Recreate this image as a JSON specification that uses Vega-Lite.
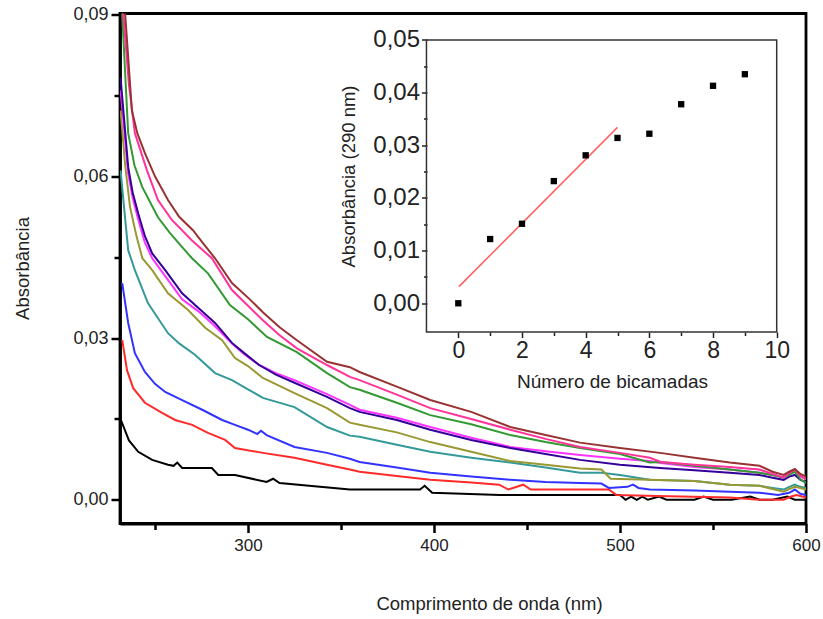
{
  "$schema": "https://vega.github.io/schema/vega-lite/v6.json",
  "width": 686,
  "height": 510,
  "autosize": {"type": "none"},
  "padding": {"left": 120, "top": 13.5, "right": 17, "bottom": 95.5},
  "background": "white",
  "config": {
    "view": {"stroke": "black", "strokeWidth": 2.8},
    "font": "Liberation Sans",
    "axis": {"labelFont": "Liberation Sans", "titleFont": "Liberation Sans", "titleFontWeight": "normal", "labelColor": "#222", "titleColor": "#222", "grid": false, "labelOverlap": false, "labelFlush": false, "labelBound": false}
  },
  "layer": [
    {
      "data": {"values": [
        {"s":"n0","x":231.7,"y":0.0148},{"s":"n0","x":236,"y":0.011},{"s":"n0","x":241,"y":0.0089},{"s":"n0","x":248.5,"y":0.0074},{"s":"n0","x":257,"y":0.0065},{"s":"n0","x":260,"y":0.0063},{"s":"n0","x":262,"y":0.0069},{"s":"n0","x":264.6,"y":0.0059},{"s":"n0","x":280.6,"y":0.0059},{"s":"n0","x":284,"y":0.0046},{"s":"n0","x":293,"y":0.0046},{"s":"n0","x":310,"y":0.0033},{"s":"n0","x":313.5,"y":0.0039},{"s":"n0","x":317,"y":0.0031},{"s":"n0","x":338.7,"y":0.0024},{"s":"n0","x":354.8,"y":0.0019},{"s":"n0","x":392.5,"y":0.0019},{"s":"n0","x":395,"y":0.0026},{"s":"n0","x":399,"y":0.0013},{"s":"n0","x":435.5,"y":0.0009},{"s":"n0","x":500,"y":0.0009},{"s":"n0","x":503,"y":0.0},{"s":"n0","x":506,"y":0.0006},{"s":"n0","x":509,"y":0.0},{"s":"n0","x":512,"y":0.0006},{"s":"n0","x":515,"y":0.0},{"s":"n0","x":521,"y":0.0006},{"s":"n0","x":525,"y":0.0},{"s":"n0","x":540,"y":0.0},{"s":"n0","x":545,"y":0.0006},{"s":"n0","x":550,"y":0.0},{"s":"n0","x":560,"y":0.0},{"s":"n0","x":570,"y":0.0006},{"s":"n0","x":575,"y":0.0},{"s":"n0","x":582,"y":0.0},{"s":"n0","x":590,"y":0.0006},{"s":"n0","x":594,"y":0.0},{"s":"n0","x":600,"y":0.0},
        {"s":"n1","x":232.4,"y":0.0296},{"s":"n1","x":235,"y":0.024},{"s":"n1","x":238.3,"y":0.0207},{"s":"n1","x":244.6,"y":0.018},{"s":"n1","x":253.8,"y":0.0161},{"s":"n1","x":260.8,"y":0.0148},{"s":"n1","x":270,"y":0.0139},{"s":"n1","x":278.5,"y":0.0124},{"s":"n1","x":287.7,"y":0.0111},{"s":"n1","x":293,"y":0.0096},{"s":"n1","x":308,"y":0.0087},{"s":"n1","x":325,"y":0.0078},{"s":"n1","x":342.5,"y":0.0065},{"s":"n1","x":354.8,"y":0.0056},{"s":"n1","x":360,"y":0.0052},{"s":"n1","x":380,"y":0.0044},{"s":"n1","x":398,"y":0.0037},{"s":"n1","x":420,"y":0.0032},{"s":"n1","x":435,"y":0.0028},{"s":"n1","x":440,"y":0.0019},{"s":"n1","x":448,"y":0.0028},{"s":"n1","x":452,"y":0.0019},{"s":"n1","x":478.5,"y":0.0019},{"s":"n1","x":494,"y":0.0019},{"s":"n1","x":498,"y":0.0009},{"s":"n1","x":520,"y":0.0007},{"s":"n1","x":559,"y":0.0004},{"s":"n1","x":575,"y":0.0},{"s":"n1","x":588,"y":0.0},{"s":"n1","x":592,"y":0.0006},{"s":"n1","x":595,"y":0.0009},{"s":"n1","x":600,"y":0.0004},
        {"s":"n2","x":232.4,"y":0.0402},{"s":"n2","x":235.6,"y":0.0328},{"s":"n2","x":239.2,"y":0.0272},{"s":"n2","x":244.6,"y":0.0237},{"s":"n2","x":250,"y":0.0215},{"s":"n2","x":255.5,"y":0.02},{"s":"n2","x":264.6,"y":0.0185},{"s":"n2","x":275.4,"y":0.0167},{"s":"n2","x":286.1,"y":0.0148},{"s":"n2","x":293,"y":0.0139},{"s":"n2","x":300,"y":0.013},{"s":"n2","x":305,"y":0.0122},{"s":"n2","x":307,"y":0.0128},{"s":"n2","x":310,"y":0.012},{"s":"n2","x":325,"y":0.0098},{"s":"n2","x":342.5,"y":0.0087},{"s":"n2","x":354.8,"y":0.0076},{"s":"n2","x":360,"y":0.007},{"s":"n2","x":380,"y":0.006},{"s":"n2","x":398,"y":0.005},{"s":"n2","x":420,"y":0.0043},{"s":"n2","x":441,"y":0.0037},{"s":"n2","x":460,"y":0.0033},{"s":"n2","x":478.5,"y":0.0031},{"s":"n2","x":490,"y":0.003},{"s":"n2","x":494,"y":0.0022},{"s":"n2","x":504,"y":0.0024},{"s":"n2","x":507,"y":0.0028},{"s":"n2","x":510,"y":0.0022},{"s":"n2","x":516,"y":0.0019},{"s":"n2","x":540,"y":0.0017},{"s":"n2","x":559,"y":0.0015},{"s":"n2","x":575,"y":0.0013},{"s":"n2","x":585,"y":0.0009},{"s":"n2","x":591,"y":0.0013},{"s":"n2","x":594,"y":0.0019},{"s":"n2","x":597,"y":0.0011},{"s":"n2","x":600,"y":0.0009},
        {"s":"n3","x":231.5,"y":0.0611},{"s":"n3","x":234,"y":0.052},{"s":"n3","x":235.6,"y":0.0463},{"s":"n3","x":239.2,"y":0.0426},{"s":"n3","x":246.2,"y":0.0365},{"s":"n3","x":257,"y":0.0309},{"s":"n3","x":263,"y":0.029},{"s":"n3","x":271.5,"y":0.0269},{"s":"n3","x":282.3,"y":0.0235},{"s":"n3","x":291.4,"y":0.0222},{"s":"n3","x":300,"y":0.0205},{"s":"n3","x":308,"y":0.0189},{"s":"n3","x":325,"y":0.0172},{"s":"n3","x":342.5,"y":0.0135},{"s":"n3","x":354.8,"y":0.0119},{"s":"n3","x":360,"y":0.0117},{"s":"n3","x":380,"y":0.0102},{"s":"n3","x":398,"y":0.0089},{"s":"n3","x":420,"y":0.0078},{"s":"n3","x":441,"y":0.0069},{"s":"n3","x":460,"y":0.006},{"s":"n3","x":478.5,"y":0.005},{"s":"n3","x":490,"y":0.005},{"s":"n3","x":500,"y":0.0046},{"s":"n3","x":516,"y":0.0037},{"s":"n3","x":540,"y":0.0035},{"s":"n3","x":559,"y":0.0028},{"s":"n3","x":575,"y":0.0026},{"s":"n3","x":582,"y":0.0022},{"s":"n3","x":588,"y":0.0019},{"s":"n3","x":591,"y":0.0024},{"s":"n3","x":594,"y":0.0028},{"s":"n3","x":597,"y":0.0024},{"s":"n3","x":600,"y":0.0022},
        {"s":"n4","x":231.5,"y":0.0722},{"s":"n4","x":234,"y":0.062},{"s":"n4","x":236.6,"y":0.0543},{"s":"n4","x":240,"y":0.049},{"s":"n4","x":243.2,"y":0.0448},{"s":"n4","x":248.5,"y":0.0426},{"s":"n4","x":257,"y":0.0383},{"s":"n4","x":267.8,"y":0.0352},{"s":"n4","x":277,"y":0.0319},{"s":"n4","x":286.1,"y":0.0296},{"s":"n4","x":293,"y":0.0263},{"s":"n4","x":300,"y":0.0248},{"s":"n4","x":308,"y":0.0226},{"s":"n4","x":325,"y":0.0198},{"s":"n4","x":342.5,"y":0.017},{"s":"n4","x":354.8,"y":0.0143},{"s":"n4","x":360,"y":0.0139},{"s":"n4","x":380,"y":0.0125},{"s":"n4","x":398,"y":0.0107},{"s":"n4","x":420,"y":0.0089},{"s":"n4","x":441,"y":0.0072},{"s":"n4","x":460,"y":0.0065},{"s":"n4","x":478.5,"y":0.0058},{"s":"n4","x":490,"y":0.0056},{"s":"n4","x":495,"y":0.0039},{"s":"n4","x":516,"y":0.0037},{"s":"n4","x":540,"y":0.0035},{"s":"n4","x":559,"y":0.0028},{"s":"n4","x":575,"y":0.0026},{"s":"n4","x":582,"y":0.002},{"s":"n4","x":588,"y":0.0015},{"s":"n4","x":591,"y":0.002},{"s":"n4","x":594,"y":0.0024},{"s":"n4","x":597,"y":0.0022},{"s":"n4","x":600,"y":0.0019},
        {"s":"n5","x":231.5,"y":0.076},{"s":"n5","x":235.6,"y":0.0605},{"s":"n5","x":238,"y":0.056},{"s":"n5","x":241,"y":0.052},{"s":"n5","x":244.5,"y":0.0478},{"s":"n5","x":248.5,"y":0.0448},{"s":"n5","x":255.5,"y":0.0415},{"s":"n5","x":264.6,"y":0.0372},{"s":"n5","x":273.2,"y":0.035},{"s":"n5","x":282.3,"y":0.0322},{"s":"n5","x":291.4,"y":0.029},{"s":"n5","x":298,"y":0.027},{"s":"n5","x":306,"y":0.025},{"s":"n5","x":315,"y":0.0235},{"s":"n5","x":325,"y":0.0222},{"s":"n5","x":342.5,"y":0.0196},{"s":"n5","x":354.8,"y":0.0176},{"s":"n5","x":360,"y":0.0167},{"s":"n5","x":380,"y":0.0152},{"s":"n5","x":398,"y":0.0135},{"s":"n5","x":420,"y":0.0115},{"s":"n5","x":441,"y":0.0098},{"s":"n5","x":460,"y":0.009},{"s":"n5","x":478.5,"y":0.0083},{"s":"n5","x":500,"y":0.0076},{"s":"n5","x":516,"y":0.0072},{"s":"n5","x":522,"y":0.0068},{"s":"n5","x":540,"y":0.0061},{"s":"n5","x":559,"y":0.0056},{"s":"n5","x":575,"y":0.005},{"s":"n5","x":582,"y":0.0046},{"s":"n5","x":588,"y":0.0042},{"s":"n5","x":591,"y":0.0048},{"s":"n5","x":594,"y":0.0052},{"s":"n5","x":597,"y":0.0043},{"s":"n5","x":600,"y":0.0039},
        {"s":"n6","x":231.5,"y":0.0783},{"s":"n6","x":235.6,"y":0.0617},{"s":"n6","x":238,"y":0.057},{"s":"n6","x":241,"y":0.0531},{"s":"n6","x":244.5,"y":0.049},{"s":"n6","x":248.5,"y":0.0457},{"s":"n6","x":255.5,"y":0.0426},{"s":"n6","x":264.6,"y":0.0383},{"s":"n6","x":273.2,"y":0.0356},{"s":"n6","x":282.3,"y":0.0328},{"s":"n6","x":291.4,"y":0.0291},{"s":"n6","x":298,"y":0.0272},{"s":"n6","x":306,"y":0.025},{"s":"n6","x":315,"y":0.0232},{"s":"n6","x":325,"y":0.0217},{"s":"n6","x":342.5,"y":0.0191},{"s":"n6","x":354.8,"y":0.017},{"s":"n6","x":360,"y":0.0163},{"s":"n6","x":380,"y":0.0148},{"s":"n6","x":398,"y":0.013},{"s":"n6","x":420,"y":0.0111},{"s":"n6","x":441,"y":0.0096},{"s":"n6","x":460,"y":0.0085},{"s":"n6","x":478.5,"y":0.0074},{"s":"n6","x":500,"y":0.0065},{"s":"n6","x":521.5,"y":0.0059},{"s":"n6","x":540,"y":0.0055},{"s":"n6","x":559,"y":0.005},{"s":"n6","x":575,"y":0.0046},{"s":"n6","x":582,"y":0.0041},{"s":"n6","x":588,"y":0.0037},{"s":"n6","x":591,"y":0.0043},{"s":"n6","x":594,"y":0.0046},{"s":"n6","x":597,"y":0.0037},{"s":"n6","x":600,"y":0.0033},
        {"s":"n7","x":231.5,"y":0.095},{"s":"n7","x":232.4,"y":0.09},{"s":"n7","x":235.6,"y":0.068},{"s":"n7","x":239,"y":0.062},{"s":"n7","x":243.2,"y":0.058},{"s":"n7","x":251.6,"y":0.0524},{"s":"n7","x":258,"y":0.0495},{"s":"n7","x":264.5,"y":0.0469},{"s":"n7","x":269.9,"y":0.0448},{"s":"n7","x":278.5,"y":0.042},{"s":"n7","x":290.3,"y":0.0361},{"s":"n7","x":300,"y":0.0335},{"s":"n7","x":310.2,"y":0.0302},{"s":"n7","x":326.3,"y":0.0274},{"s":"n7","x":342.5,"y":0.0235},{"s":"n7","x":354.8,"y":0.0209},{"s":"n7","x":360,"y":0.0204},{"s":"n7","x":380,"y":0.018},{"s":"n7","x":398,"y":0.0157},{"s":"n7","x":420,"y":0.014},{"s":"n7","x":441,"y":0.012},{"s":"n7","x":460,"y":0.0107},{"s":"n7","x":478.5,"y":0.0096},{"s":"n7","x":500,"y":0.0085},{"s":"n7","x":516,"y":0.0069},{"s":"n7","x":522,"y":0.007},{"s":"n7","x":540,"y":0.0063},{"s":"n7","x":559,"y":0.0056},{"s":"n7","x":575,"y":0.005},{"s":"n7","x":582,"y":0.0046},{"s":"n7","x":588,"y":0.0041},{"s":"n7","x":591,"y":0.0046},{"s":"n7","x":594,"y":0.0052},{"s":"n7","x":597,"y":0.0038},{"s":"n7","x":600,"y":0.0031},
        {"s":"n8","x":231.5,"y":0.099},{"s":"n8","x":233,"y":0.09},{"s":"n8","x":236,"y":0.077},{"s":"n8","x":239.2,"y":0.068},{"s":"n8","x":245.7,"y":0.0611},{"s":"n8","x":251.6,"y":0.0556},{"s":"n8","x":259.1,"y":0.0519},{"s":"n8","x":269.9,"y":0.0481},{"s":"n8","x":280.6,"y":0.0448},{"s":"n8","x":291.4,"y":0.0389},{"s":"n8","x":300,"y":0.036},{"s":"n8","x":308,"y":0.0333},{"s":"n8","x":317,"y":0.0305},{"s":"n8","x":326.3,"y":0.0281},{"s":"n8","x":342.5,"y":0.025},{"s":"n8","x":354.8,"y":0.0228},{"s":"n8","x":360,"y":0.0222},{"s":"n8","x":380,"y":0.0195},{"s":"n8","x":398,"y":0.017},{"s":"n8","x":420,"y":0.015},{"s":"n8","x":441,"y":0.013},{"s":"n8","x":460,"y":0.0113},{"s":"n8","x":478.5,"y":0.0098},{"s":"n8","x":500,"y":0.0087},{"s":"n8","x":516,"y":0.0078},{"s":"n8","x":522,"y":0.007},{"s":"n8","x":540,"y":0.0065},{"s":"n8","x":559,"y":0.0061},{"s":"n8","x":575,"y":0.0056},{"s":"n8","x":582,"y":0.0048},{"s":"n8","x":588,"y":0.0041},{"s":"n8","x":591,"y":0.005},{"s":"n8","x":594,"y":0.0056},{"s":"n8","x":597,"y":0.0045},{"s":"n8","x":600,"y":0.0037},
        {"s":"n9","x":231.5,"y":0.103},{"s":"n9","x":234,"y":0.09},{"s":"n9","x":237.6,"y":0.0722},{"s":"n9","x":240.5,"y":0.068},{"s":"n9","x":244.6,"y":0.0643},{"s":"n9","x":250,"y":0.06},{"s":"n9","x":257,"y":0.0556},{"s":"n9","x":263,"y":0.0525},{"s":"n9","x":270.4,"y":0.05},{"s":"n9","x":276,"y":0.0475},{"s":"n9","x":282.3,"y":0.0448},{"s":"n9","x":291.4,"y":0.0402},{"s":"n9","x":300,"y":0.0375},{"s":"n9","x":308,"y":0.0348},{"s":"n9","x":317,"y":0.032},{"s":"n9","x":326.3,"y":0.0296},{"s":"n9","x":342.5,"y":0.0256},{"s":"n9","x":354.8,"y":0.0246},{"s":"n9","x":360,"y":0.0237},{"s":"n9","x":380,"y":0.021},{"s":"n9","x":398,"y":0.0185},{"s":"n9","x":420,"y":0.0163},{"s":"n9","x":441,"y":0.0135},{"s":"n9","x":460,"y":0.012},{"s":"n9","x":478.5,"y":0.0106},{"s":"n9","x":500,"y":0.0096},{"s":"n9","x":521.5,"y":0.0087},{"s":"n9","x":540,"y":0.0078},{"s":"n9","x":559,"y":0.0069},{"s":"n9","x":575,"y":0.0063},{"s":"n9","x":582,"y":0.0052},{"s":"n9","x":588,"y":0.0046},{"s":"n9","x":591,"y":0.0052},{"s":"n9","x":594,"y":0.0057},{"s":"n9","x":597,"y":0.0048},{"s":"n9","x":600,"y":0.0043}
      ]},
      "mark": {"type": "line", "clip": true, "strokeWidth": 2},
      "encoding": {
        "x": {"field": "x", "type": "quantitative", "scale": {"domain": [231.2, 600], "nice": false, "zero": false},
          "axis": {"orient": "bottom", "title": "Comprimento de onda (nm)", "values": [300, 400, 500, 600], "domain": true, "domainColor": "black", "domainWidth": 2.8, "ticks": true,
            "format": "d", "tickSize": 9, "tickWidth": 2.5, "tickColor": "black",
            "labelFontSize": 17, "labelPadding": 5, "titleFontSize": 18.5, "titleX": 369, "titleY": 80, "titleBaseline": "middle", "titleAlign": "center"}},
        "y": {"field": "y", "type": "quantitative", "scale": {"domain": [-0.0044, 0.0902], "nice": false, "zero": false},
          "axis": {"orient": "left", "title": "Absorbância", "values": [0, 0.03, 0.06, 0.09], "domain": true, "domainColor": "black", "domainWidth": 2.8, "ticks": true,
            "labelExpr": "replace(format(datum.value, '.2f'), '.', ',')", "tickSize": 9, "tickWidth": 2.5, "tickColor": "black",
            "labelFontSize": 18, "labelPadding": 3, "titleFontSize": 18.5, "titleX": -98, "titleY": 254.5, "titleBaseline": "middle", "titleAlign": "center"}},
        "color": {"field": "s", "type": "nominal", "legend": null,
          "scale": {"domain": ["n0","n1","n2","n3","n4","n5","n6","n7","n8","n9"], "range": ["#000000","#ff2a2a","#3333ff","#339999","#999933","#ff33ff","#330099","#339933","#ff3399","#993333"]}}
      }
    },
    {
      "data": {"values": [{"x": 231.2, "y": 0}]},
      "mark": {"type": "point", "opacity": 0},
      "encoding": {
        "x": {"field": "x", "type": "quantitative", "scale": {"domain": [231.2, 600], "nice": false, "zero": false},
          "axis": {"orient": "bottom", "title": null, "values": [250, 350, 450, 550], "labels": false, "domain": false, "ticks": true, "tickSize": 6, "tickWidth": 2.5, "tickColor": "black"}},
        "y": {"field": "y", "type": "quantitative", "scale": {"domain": [-0.0044, 0.0902], "nice": false, "zero": false},
          "axis": {"orient": "left", "title": null, "values": [0.015, 0.045, 0.075], "labels": false, "domain": false, "ticks": true, "tickSize": 6, "tickWidth": 2.5, "tickColor": "black"}}
      }
    },
    {
      "data": {"values": [{"x": -1, "x2": 10, "y": -0.00545, "y2": 0.05}]},
      "mark": {"type": "rect", "filled": false, "stroke": "#333333", "strokeWidth": 1.5},
      "encoding": {
        "x": {"field": "x", "type": "quantitative", "scale": {"domain": [-10.625, 10.92], "nice": false, "zero": false},
          "axis": {"orient": "bottom", "offset": -191.5, "title": null, "values": [1, 3, 5, 7, 9], "labels": false, "domain": false, "ticks": true, "tickSize": 3.5, "tickWidth": 1.5, "tickColor": "#222"}},
        "x2": {"field": "x2"},
        "y": {"field": "y", "type": "quantitative", "scale": {"domain": [-0.04182, 0.05503], "nice": false, "zero": false},
          "axis": {"orient": "left", "offset": -307, "title": null, "values": [0.005, 0.015, 0.025, 0.035, 0.045], "labels": false, "domain": false, "ticks": true, "tickSize": 3.5, "tickWidth": 1.5, "tickColor": "#222"}},
        "y2": {"field": "y2"}
      }
    },
    {
      "data": {"values": [{"x": 0.02, "y": 0.00316}, {"x": 5.0, "y": 0.0334}]},
      "mark": {"type": "line", "color": "#ff6060", "strokeWidth": 1.5},
      "encoding": {
        "x": {"field": "x", "type": "quantitative", "scale": {"domain": [-10.625, 10.92], "nice": false, "zero": false}, "axis": null},
        "y": {"field": "y", "type": "quantitative", "scale": {"domain": [-0.04182, 0.05503], "nice": false, "zero": false}, "axis": null}
      }
    },
    {
      "data": {"values": [
        {"n": 0, "a": 0.0000}, {"n": 1, "a": 0.0122}, {"n": 2, "a": 0.0151}, {"n": 3, "a": 0.0232}, {"n": 4, "a": 0.0281},
        {"n": 5, "a": 0.0314}, {"n": 6, "a": 0.0322}, {"n": 7, "a": 0.0378}, {"n": 8, "a": 0.0413}, {"n": 9, "a": 0.0435}
      ]},
      "mark": {"type": "point", "shape": "square", "filled": true, "color": "black", "size": 40, "opacity": 1},
      "encoding": {
        "x": {"field": "n", "type": "quantitative", "scale": {"domain": [-10.625, 10.92], "nice": false, "zero": false},
          "axis": {"orient": "bottom", "offset": -191.5, "title": "Número de bicamadas", "values": [0, 2, 4, 6, 8, 10], "domain": false, "ticks": true,
            "format": "d", "tickSize": 5.5, "tickWidth": 1.5, "tickColor": "#222",
            "labelFontSize": 23, "labelPadding": 2, "titleFontSize": 19, "titleX": 492, "titleY": 49, "titleBaseline": "middle", "titleAlign": "center"}},
        "y": {"field": "a", "type": "quantitative", "scale": {"domain": [-0.04182, 0.05503], "nice": false, "zero": false},
          "axis": {"orient": "left", "offset": -307, "title": "Absorbância (290 nm)", "values": [0, 0.01, 0.02, 0.03, 0.04, 0.05], "domain": false, "ticks": true,
            "labelExpr": "replace(format(datum.value, '.2f'), '.', ',')", "tickSize": 5.5, "tickWidth": 1.5, "tickColor": "#222",
            "labelFontSize": 24, "labelPadding": 2, "titleFontSize": 18.5, "titleX": -79, "titleY": 162.5, "titleBaseline": "middle", "titleAlign": "center"}}
      }
    }
  ],
  "resolve": {"scale": {"x": "independent", "y": "independent"}, "axis": {"x": "independent", "y": "independent"}}
}
